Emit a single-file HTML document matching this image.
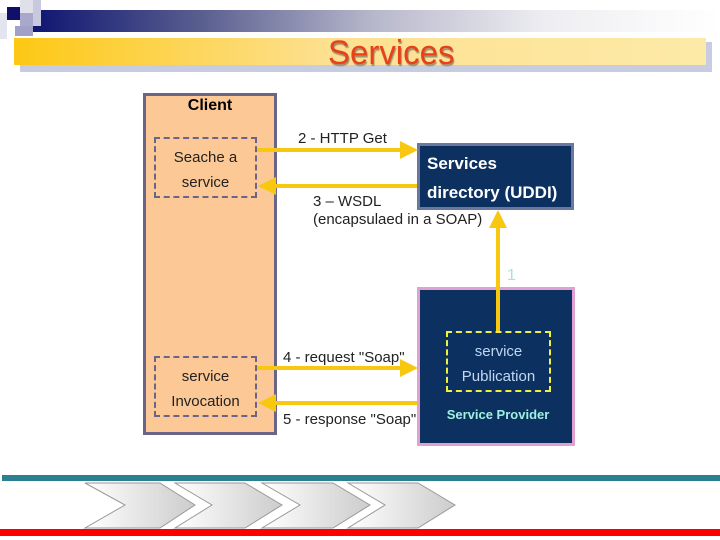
<!DOCTYPE html>
<html><head><meta charset="utf-8"><style>
body{margin:0;width:720px;height:540px;position:relative;background:#fff;font-family:"Liberation Sans",sans-serif;overflow:hidden}
.a{position:absolute}
</style></head><body>
<div class="a" style="left:30px;top:10px;width:690px;height:22px;background:linear-gradient(90deg,#0e1470,#5a5f90 25%,#b8b8cc 50%,#eeeef2 75%,#fff)"></div>
<div class="a" style="left:7px;top:7px;width:13px;height:13px;background:#10106a"></div>
<div class="a" style="left:0;top:13px;width:7px;height:26px;background:#e4e4ee"></div>
<div class="a" style="left:20px;top:0;width:20px;height:13px;background:#e0e0ea"></div>
<div class="a" style="left:20px;top:13px;width:13px;height:13px;background:#a8a8cc"></div>
<div class="a" style="left:33px;top:0;width:8px;height:26px;background:#c8c8de"></div>
<div class="a" style="left:15px;top:26px;width:18px;height:10px;background:#a0a0c8"></div>
<div class="a" style="left:20px;top:42px;width:692px;height:30px;background:#c8cce0"></div>
<div class="a" style="left:14px;top:38px;width:692px;height:27px;background:linear-gradient(90deg,#fdc814,#fde090 45%,#fdeaa8)"></div>
<div class="a" style="left:328px;top:34px;font-size:34px;color:#e84018;text-shadow:1px 2px 1px #a09070;line-height:38px;transform:scaleX(0.97);transform-origin:left">Services</div>

<div class="a" style="left:143px;top:93px;width:128px;height:336px;background:#fcc896;border:3px solid #6a6488"></div>
<div class="a" style="left:143px;top:97px;width:134px;text-align:center;font-weight:bold;font-size:16px">Client</div>
<div class="a" style="left:154px;top:137px;width:99px;padding-top:6px;height:51px;border:2px dashed #6a6488;text-align:center;font-size:15px;color:#222;line-height:25px">Seache a<br>service</div>
<div class="a" style="left:154px;top:356px;width:99px;height:51px;padding-top:6px;border:2px dashed #6a6488;text-align:center;font-size:15px;color:#222;line-height:25px">service<br>Invocation</div>

<div class="a" style="left:417px;top:143px;width:151px;height:61px;background:#0c3060;border:3px solid #6a78a0"></div>
<div class="a" style="left:427px;top:149px;color:#fff;font-size:17px;line-height:29px;font-weight:bold">Services<br>directory (UDDI)</div>
<div class="a" style="left:417px;top:287px;width:152px;height:153px;background:#0c3060;border:3px solid #e0a0d0"></div>
<div class="a" style="left:446px;top:331px;width:101px;height:51px;padding-top:6px;border:2px dashed #f0f040;text-align:center;font-size:15px;line-height:25px;color:#c0d8f0">service<br>Publication</div>
<div class="a" style="left:420px;top:407px;width:156px;text-align:center;color:#a0f0e0;font-size:13px;font-weight:bold">Service Provider</div>

<svg class="a" style="left:0;top:0" width="720" height="540">
<g stroke="#f8c810" stroke-width="4" fill="#f8c810">
<line x1="257" y1="150" x2="402" y2="150"/><polygon points="400,141 418,150 400,159" stroke="none"/>
<line x1="275" y1="186" x2="417" y2="186"/><polygon points="276,177 258,186 276,195" stroke="none"/>
<line x1="257" y1="368" x2="402" y2="368"/><polygon points="400,359 418,368 400,377" stroke="none"/>
<line x1="275" y1="403" x2="417" y2="403"/><polygon points="276,394 258,403 276,412" stroke="none"/>
<line x1="498" y1="331" x2="498" y2="226"/><polygon points="489,228 498,210 507,228" stroke="none"/>
</g>
<text x="507" y="280" fill="#a0e8d0" font-size="16" font-family="Liberation Sans">1</text>
<text x="298" y="143" font-size="15" fill="#222" font-family="Liberation Sans">2 - HTTP Get</text>
<text x="313" y="206" font-size="15" fill="#222" font-family="Liberation Sans">3 – WSDL</text>
<text x="313" y="224" font-size="15" fill="#222" font-family="Liberation Sans">(encapsulaed in a SOAP)</text>
<text x="283" y="362" font-size="15" fill="#222" font-family="Liberation Sans">4 - request "Soap"</text>
<text x="283" y="424" font-size="15" fill="#222" font-family="Liberation Sans">5 - response "Soap"</text>
<rect x="2" y="475" width="718" height="6" fill="#2a8090"/>
<rect x="0" y="529" width="720" height="7" fill="#f00"/>
<defs><linearGradient id="g" x1="0" x2="1"><stop offset="0" stop-color="#fff"/><stop offset="1" stop-color="#ccc"/></linearGradient></defs>
<g stroke="#999" stroke-width="1" fill="url(#g)">
<polygon points="85,483 160,483 195,505 160,528 85,528 125,505"/>
<polygon points="175,483 245,483 282,505 245,528 175,528 212,505"/>
<polygon points="262,483 333,483 370,505 333,528 262,528 300,505"/>
<polygon points="348,483 418,483 455,505 418,528 348,528 385,505"/>
</g>
</svg>
</body></html>
